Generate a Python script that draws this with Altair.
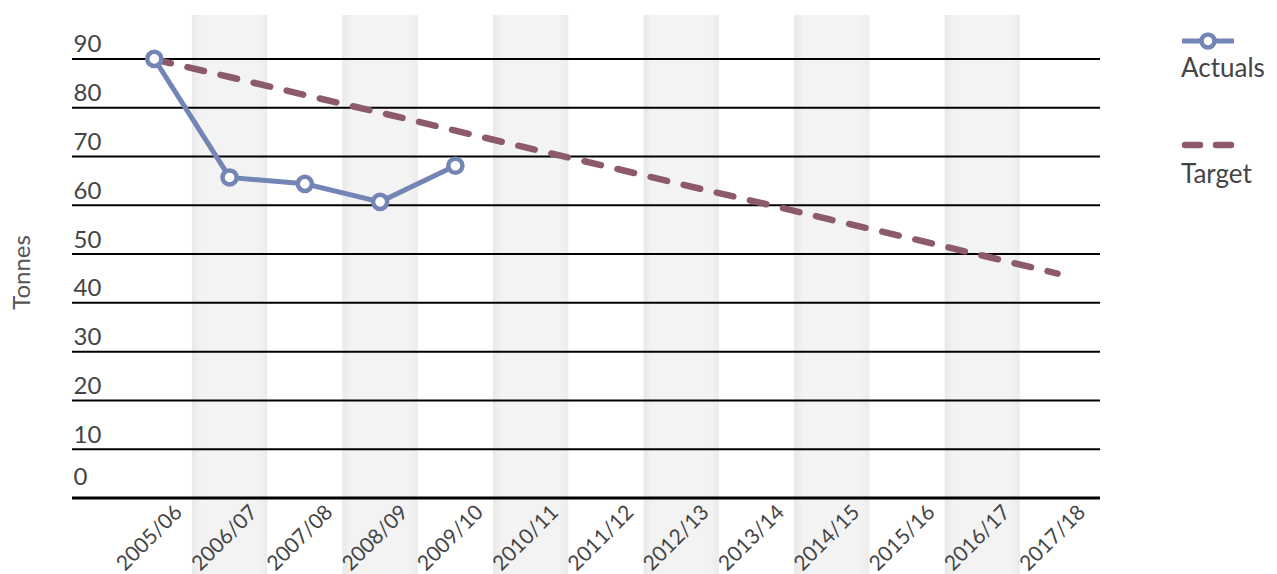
import altair as alt
import pandas as pd

categories = ["2005/06", "2006/07", "2007/08", "2008/09", "2009/10", "2010/11", "2011/12",
              "2012/13", "2013/14", "2014/15", "2015/16", "2016/17", "2017/18"]
actual_years = ["2005/06", "2006/07", "2007/08", "2008/09", "2009/10"]
actual_values = [90.0, 65.7, 64.4, 60.7, 68.1]
target_values = [89.9, 86.3, 82.6, 79.0, 75.3, 71.6, 68.0, 64.3, 60.7, 57.0, 53.4, 49.7, 46.0]
y_ticks = [0, 10, 20, 30, 40, 50, 60, 70, 80, 90]
series_names = ["Actuals", "Target"]

FONT = "Lato"
TEXT = "#444444"
BLUE = "#7385b5"
MAUVE = "#8c5a6c"
W, H = 1028, 483

actual_df = pd.DataFrame({"year": actual_years, "value": actual_values})
target_df = pd.DataFrame({"year": categories, "value": target_values})
shade_df = pd.DataFrame({"year": categories[1::2]})
grid_df = pd.DataFrame({"v": [t for t in y_ticks if t != 0]})
base_df = pd.DataFrame({"v": [y_ticks[0]]})

xscale = alt.Scale(domain=categories, paddingInner=0, paddingOuter=0.3286, align=0.903)
yscale = alt.Scale(domain=[0, 99], nice=False)

x_axis = alt.Axis(title=None, labelAngle=-45, labelAlign="right", labelBaseline="top",
                  labelPadding=3, labelOffset=17, ticks=False, domain=False, grid=False,
                  labelFont=FONT, labelFontSize=21, labelColor=TEXT, zindex=1)
y_axis = alt.Axis(values=y_ticks, title="Tonnes", ticks=False, domain=False, grid=False,
                  labelAlign="left", labelPadding=-1, labelBaseline="alphabetic",
                  labelOffset={"condition": {"test": "datum.value === 0", "value": -14},
                               "value": -7},
                  labelFont=FONT, labelFontSize=24, labelColor=TEXT,
                  titleAngle=270, titleX=-43, titleY=257, titleAlign="center",
                  titleBaseline="alphabetic", titleFont=FONT, titleFontSize=24,
                  titleFontWeight="normal", titleColor="#555555", zindex=1)

band_grad = alt.LinearGradient(
    gradient="linear",
    stops=[alt.GradientStop(color="#e8e8e8", offset=0),
           alt.GradientStop(color="#f3f3f3", offset=0.12),
           alt.GradientStop(color="#f3f3f3", offset=0.88),
           alt.GradientStop(color="#ebebeb", offset=1)],
    x1=0, x2=1, y1=0, y2=0)

bands = alt.Chart(shade_df).mark_rect(color=band_grad).encode(
    x=alt.X("year:N", scale=xscale, axis=x_axis, sort=categories),
    y=alt.value(0), y2=alt.value(H + 90))

grid = alt.Chart(grid_df).mark_rule(color="#000000", strokeWidth=2).encode(
    y=alt.Y("v:Q", scale=yscale, axis=y_axis), x=alt.value(0), x2=alt.value(W))
base = alt.Chart(base_df).mark_rule(color="#000000", strokeWidth=3).encode(
    y=alt.Y("v:Q", scale=yscale), x=alt.value(0), x2=alt.value(W))

target = alt.Chart(target_df).mark_line(color=MAUVE, strokeWidth=6.5, strokeDash=[17, 17],
                                        strokeCap="round").encode(
    x=alt.X("year:N", scale=xscale, sort=categories),
    y=alt.Y("value:Q", scale=yscale))

actual_line = alt.Chart(actual_df).mark_line(color=BLUE, strokeWidth=5).encode(
    x=alt.X("year:N", scale=xscale, sort=categories),
    y=alt.Y("value:Q", scale=yscale))
actual_pts = alt.Chart(actual_df).mark_point(shape="circle", filled=True, fill="#ffffff",
                                             stroke=BLUE, strokeWidth=4.5, size=200,
                                             opacity=1).encode(
    x=alt.X("year:N", scale=xscale, sort=categories),
    y=alt.Y("value:Q", scale=yscale))

# legend
leg_a = pd.DataFrame({"s": [series_names[0]]})
leg_t = pd.DataFrame({"s": [series_names[1]]})
la_line = alt.Chart(leg_a).mark_rule(color=BLUE, strokeWidth=5).encode(
    x=alt.value(1110), x2=alt.value(1162), y=alt.value(26))
la_pt = alt.Chart(leg_a).mark_point(shape="circle", filled=True, fill="#ffffff", stroke=BLUE,
                                    strokeWidth=4.5, size=170, opacity=1).encode(
    x=alt.value(1136), y=alt.value(26))
la_txt = alt.Chart(leg_a).mark_text(align="left", baseline="alphabetic", font=FONT,
                                    fontSize=26, color=TEXT).encode(
    x=alt.value(1109), y=alt.value(62), text="s:N")
lt_line = alt.Chart(leg_t).mark_rule(color=MAUVE, strokeWidth=6.5, strokeDash=[15, 16],
                                     strokeCap="round").encode(
    x=alt.value(1113), x2=alt.value(1160), y=alt.value(130))
lt_txt = alt.Chart(leg_t).mark_text(align="left", baseline="alphabetic", font=FONT,
                                    fontSize=26, color=TEXT).encode(
    x=alt.value(1109), y=alt.value(168), text="s:N")

chart = alt.layer(bands, grid, base, target, actual_line, actual_pts,
                  la_line, la_pt, la_txt, lt_line, lt_txt).properties(
    width=W, height=H,
    background="#ffffff",
    autosize=alt.AutoSizeParams(type="none"),
    padding={"left": 64, "top": 7, "right": 169, "bottom": 80},
).configure_view(stroke=None)

chart.save("out.html", embed_options={"renderer": "svg", "actions": False})
